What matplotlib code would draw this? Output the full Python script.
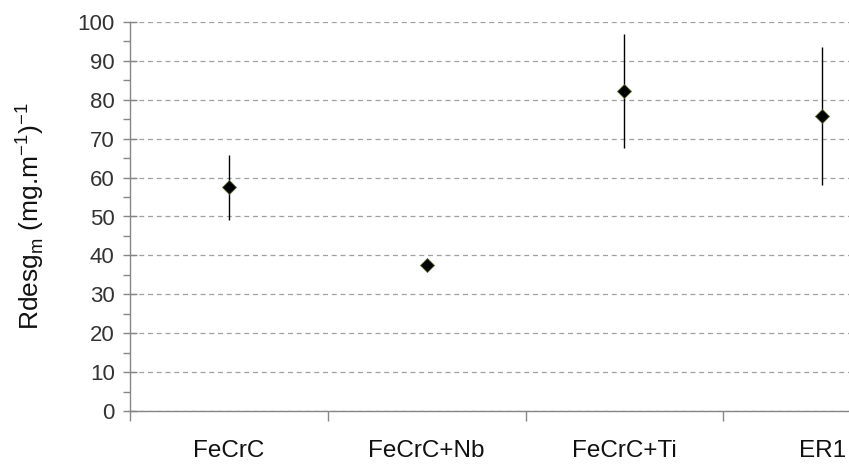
import matplotlib
matplotlib.use("Agg")
import matplotlib.pyplot as plt
from matplotlib.ticker import MultipleLocator, FixedLocator

plt.rcParams['font.family'] = ['Liberation Sans', 'DejaVu Sans']
plt.rcParams['mathtext.fontset'] = 'custom'
plt.rcParams['mathtext.rm'] = 'Liberation Sans'

categories = ["FeCrC", "FeCrC+Nb", "FeCrC+Ti", "ER1"]
values = [57.5, 37.5, 82.3, 75.8]
errors = [8.3, 1.0, 14.7, 17.8]

fig = plt.figure(figsize=(8.49, 4.65), dpi=100)
ax = fig.add_axes([130/849, 54/465, 791/849, 389/465])

x = list(range(len(categories)))
ax.errorbar(x, values, yerr=errors, fmt='D', color='black', ecolor='black',
            elinewidth=1.0, capsize=0, markersize=7,
            markeredgecolor='#556b2f', markeredgewidth=0.6, zorder=3)

ax.set_xlim(-0.5, len(categories) - 0.5)
ax.set_ylim(0, 100)
ax.yaxis.set_major_locator(MultipleLocator(10))
ax.yaxis.set_minor_locator(MultipleLocator(5))
ax.set_xticks(x)
ax.set_xticklabels(categories)
ax.xaxis.set_minor_locator(FixedLocator([i - 0.5 for i in range(len(categories) + 1)]))

ax.grid(axis='y', which='major', linestyle=(0, (4, 3)), color='#a0a0a0', linewidth=0.9)
ax.set_axisbelow(True)

for s in ['top', 'right']:
    ax.spines[s].set_visible(False)
for s in ['left', 'bottom']:
    ax.spines[s].set_color('#868686')
    ax.spines[s].set_linewidth(1.0)

ax.tick_params(axis='y', which='major', direction='inout', length=10, width=1,
               color='#868686', labelsize=16, labelcolor='#333333', pad=6)
ax.tick_params(axis='y', which='minor', direction='out', length=5, width=1, color='#868686')
ax.tick_params(axis='x', which='major', length=0, labelsize=17.5, labelcolor='#111111', pad=21)
ax.tick_params(axis='x', which='minor', direction='out', length=7, width=1, color='#868686')

ax.set_ylabel(r'Rdesg$_{\mathrm{m}}$ (mg.m$^{\mathrm{-1}}$)$^{\mathrm{-1}}$', fontsize=19, color='#111111')
ax.yaxis.set_label_coords(-(130 - 30) / 791, 0.5)
ax.yaxis.label.set_verticalalignment('center')

fig.savefig("out.png", dpi=100)
